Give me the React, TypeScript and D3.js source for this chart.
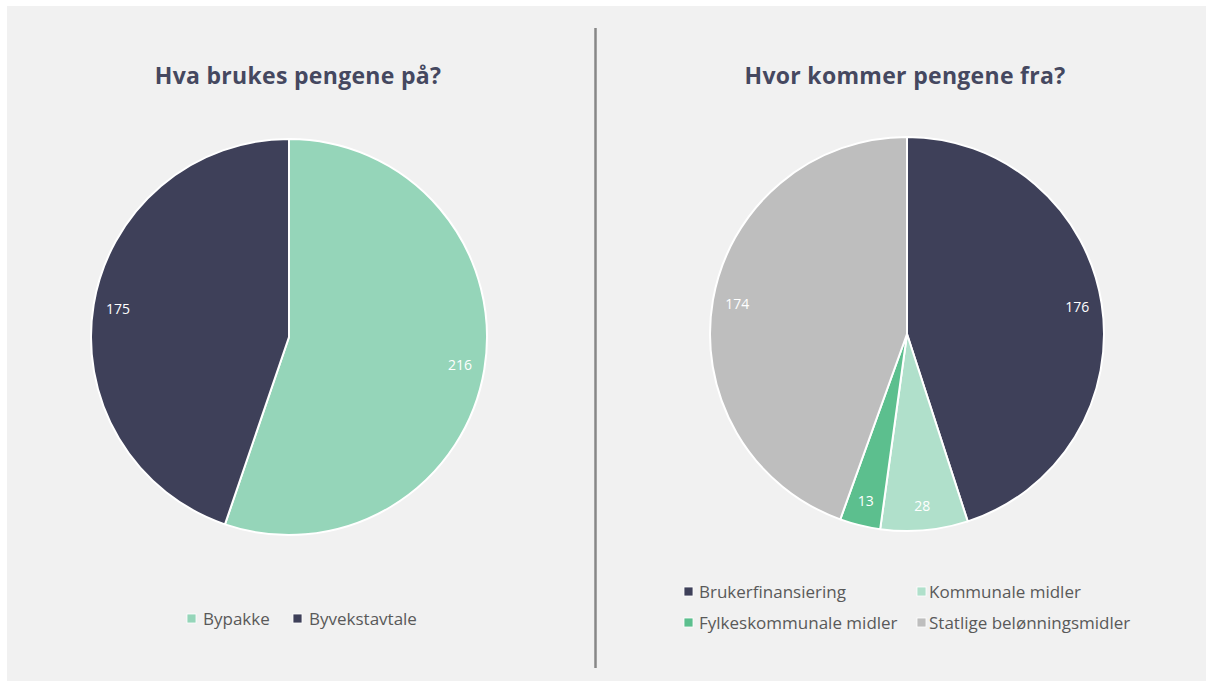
import React from 'react';
import * as d3 from 'd3';

// left chart: what the money is used for
const useLabels = ['Bypakke', 'Byvekstavtale'];
const useValues = [216, 175];
const useColors = ['#95d5b9', '#3e4059'];

// right chart: where the money comes from
const srcLabels = ['Brukerfinansiering', 'Kommunale midler', 'Fylkeskommunale midler', 'Statlige belønningsmidler'];
const srcValues = [176, 28, 13, 174];
const srcColors = ['#3e4059', '#b0e0cb', '#5cbf8e', '#bebebe'];

const W = 1206;
const H = 681;
const titleFont = '"Open Sans", Lato, sans-serif';
const bodyFont = '"Open Sans", Lato, sans-serif';

type PieProps = {
    cx: number;
    cy: number;
    r: number;
    values: number[];
    colors: string[];
};

function Pie({ cx, cy, r, values, colors }: PieProps) {
    const pie = d3.pie<number>().sort(null).value(d => d);
    const arcs = pie(values);
    const arc = d3.arc<d3.PieArcDatum<number>>().innerRadius(0).outerRadius(r);
    const labelArc = d3.arc<d3.PieArcDatum<number>>().innerRadius(r * 0.875).outerRadius(r * 0.875);

    return (
        <g transform={`translate(${cx}, ${cy})`}>
            {arcs.map((a, i) => (
                <path key={i} d={arc(a) || ''} fill={colors[i]} stroke="#ffffff" strokeWidth={2} strokeLinejoin="round" />
            ))}
            {arcs.map((a, i) => {
                const [x, y] = labelArc.centroid(a);
                return (
                    <text key={'l' + i} x={x} y={y} dy="0.35em" textAnchor="middle"
                        fontFamily={bodyFont} fontSize={14} fill="#ffffff">
                        {a.data}
                    </text>
                );
            })}
        </g>
    );
}

export default function App() {
    return (
        <svg width={W} height={H} style={{ position: 'absolute', left: 0, top: 0 }}>
            <rect x={7} y={6} width={W - 7} height={H - 6} fill="#f1f1f1" />
            <line x1={595.5} x2={595.5} y1={28} y2={668} stroke="#878787" strokeWidth={2.5} />

            <text x={298} y={84} textAnchor="middle" fontFamily={titleFont} fontWeight={700}
                fontSize={23} letterSpacing={0.3} fill="#454860">Hva brukes pengene på?</text>
            <text x={905} y={84} textAnchor="middle" fontFamily={titleFont} fontWeight={700}
                fontSize={23} letterSpacing={0.3} fill="#454860">Hvor kommer pengene fra?</text>

            <Pie cx={289} cy={337} r={198} values={useValues} colors={useColors} />
            <Pie cx={907} cy={334} r={197} values={srcValues} colors={srcColors} />

            {/* left legend */}
            {useLabels.map((l, i) => {
                const x = [187, 293][i];
                return (
                    <g key={l}>
                        <rect x={x} y={614} width={9} height={9} fill={useColors[i]} stroke="#ffffff" strokeWidth={0.8} />
                        <text x={x + 16} y={619} dy="0.35em" fontFamily={bodyFont} fontSize={17} fill="#595959">{l}</text>
                    </g>
                );
            })}

            {/* right legend */}
            {srcLabels.map((l, i) => {
                const x = [684, 917][i % 2];
                const y = [587, 618][Math.floor(i / 2)];
                return (
                    <g key={l}>
                        <rect x={x} y={y} width={9} height={9} fill={srcColors[i]} stroke="#ffffff" strokeWidth={0.8} />
                        <text x={x + [15, 12][i % 2]} y={y + 5} dy="0.35em" fontFamily={bodyFont} fontSize={17} fill="#595959">{l}</text>
                    </g>
                );
            })}
        </svg>
    );
}
